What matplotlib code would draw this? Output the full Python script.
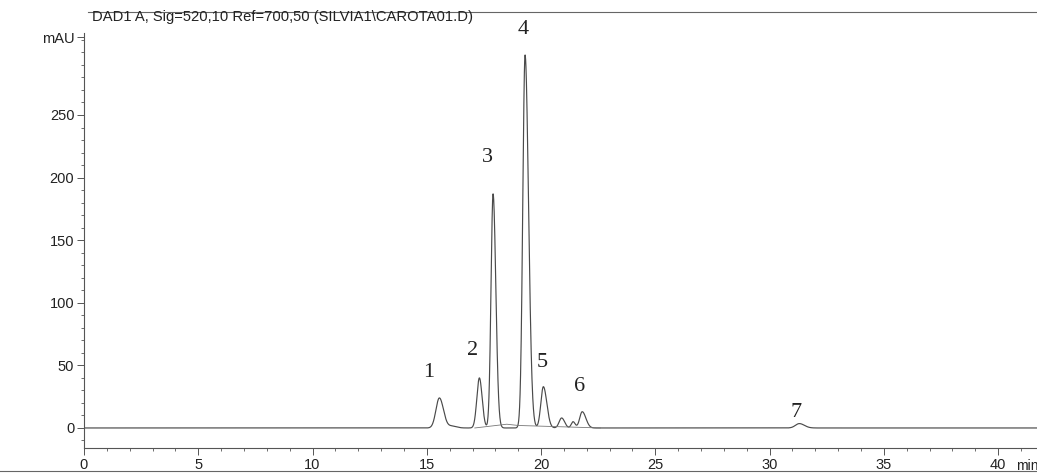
import numpy as np
import matplotlib
matplotlib.use("Agg")
import matplotlib.pyplot as plt
from matplotlib.lines import Line2D

# ---- data ----
peak_rt      = [15.55, 16.10, 17.30, 17.90, 19.30, 20.10, 20.90, 21.40, 21.80, 31.30]   # min
peak_height  = [24.0,  1.5,   40.0,  187.0, 298.0, 33.0,  8.0,   5.0,   13.0,  3.5]    # mAU
peak_sig_l   = [0.15,  0.15,  0.11,  0.09,  0.10,  0.11,  0.11,  0.08,  0.11,  0.17]
peak_sig_r   = [0.18,  0.20,  0.12,  0.12,  0.15,  0.15,  0.13,  0.09,  0.16,  0.22]
label_text   = ["1", "2", "3", "4", "5", "6", "7"]
label_x      = [15.07, 17.00, 17.65, 19.23, 20.06, 21.70, 31.15]
label_y      = [44, 62, 216, 318, 52, 33, 12]
base_x       = [17.10, 18.50, 19.00, 22.60]      # software baseline segment
base_y       = [0.0, 3.0, 2.0, 0.0]
x_ticks      = [0, 5, 10, 15, 20, 25, 30, 35, 40]
y_ticks      = [0, 50, 100, 150, 200, 250]
title = "DAD1 A, Sig=520,10 Ref=700,50 (SILVIA1\\CAROTA01.D)"

t = np.linspace(0, 41.7, 6000)
signal = np.zeros_like(t)
for rt, h, sl, sr in zip(peak_rt, peak_height, peak_sig_l, peak_sig_r):
    s = np.where(t < rt, sl, sr)
    signal += h * np.exp(-0.5 * ((t - rt) / s) ** 2)

fig = plt.figure(figsize=(10.37, 4.74), dpi=100)
ax = fig.add_axes([84/1037, 1 - 448/474, 1 - 84/1037, (448 - 33)/474])
ax.plot(t, signal, color="#4a4a4a", lw=0.85)
ax.plot(base_x, base_y, color="#777777", lw=0.6)

ax.set_xlim(0, 41.7)
ax.set_ylim(-16, 315.5)

for sp in ["top", "right"]:
    ax.spines[sp].set_visible(False)
for sp in ["left", "bottom"]:
    ax.spines[sp].set_color("#555555")
    ax.spines[sp].set_linewidth(0.8)

tick_font = dict(family="Liberation Sans", size=10.5)
ax.set_xticks(x_ticks)
ax.set_xticklabels([str(v) for v in x_ticks], fontdict=tick_font, color="#222222")
ax.set_xticks(np.arange(0, 42, 1), minor=True)
ax.set_yticks(y_ticks + [312])
ax.set_yticklabels([str(v) for v in y_ticks] + ["mAU"], fontdict=tick_font, color="#222222")
ax.set_yticks(np.arange(-10, 315, 10), minor=True)
ax.tick_params(axis="both", which="major", length=5, width=0.7, color="#555555", pad=2)
ax.tick_params(axis="both", which="minor", length=2.5, width=0.6, color="#555555")

for txt, lx, ly in zip(label_text, label_x, label_y):
    ax.text(lx, ly, txt, family="Liberation Serif", fontsize=16, color="#222222",
            ha="center", va="center", clip_on=False)

fig.text(92/1037, 1 - 17/474, title, family="Liberation Sans", fontsize=10.6,
         color="#222222", ha="left", va="center")
fig.text(1016/1037, 1 - 466/474, "min", family="Liberation Sans", fontsize=10,
         color="#222222", ha="left", va="center")

# page frame lines from the scan
fig.add_artist(Line2D([88/1037, 1.0], [1 - 12/474, 1 - 12/474], color="#666666", lw=0.8))
fig.add_artist(Line2D([0.0, 1.0], [1 - 471/474, 1 - 471/474], color="#666666", lw=0.8))

fig.savefig("out.png", dpi=100)
